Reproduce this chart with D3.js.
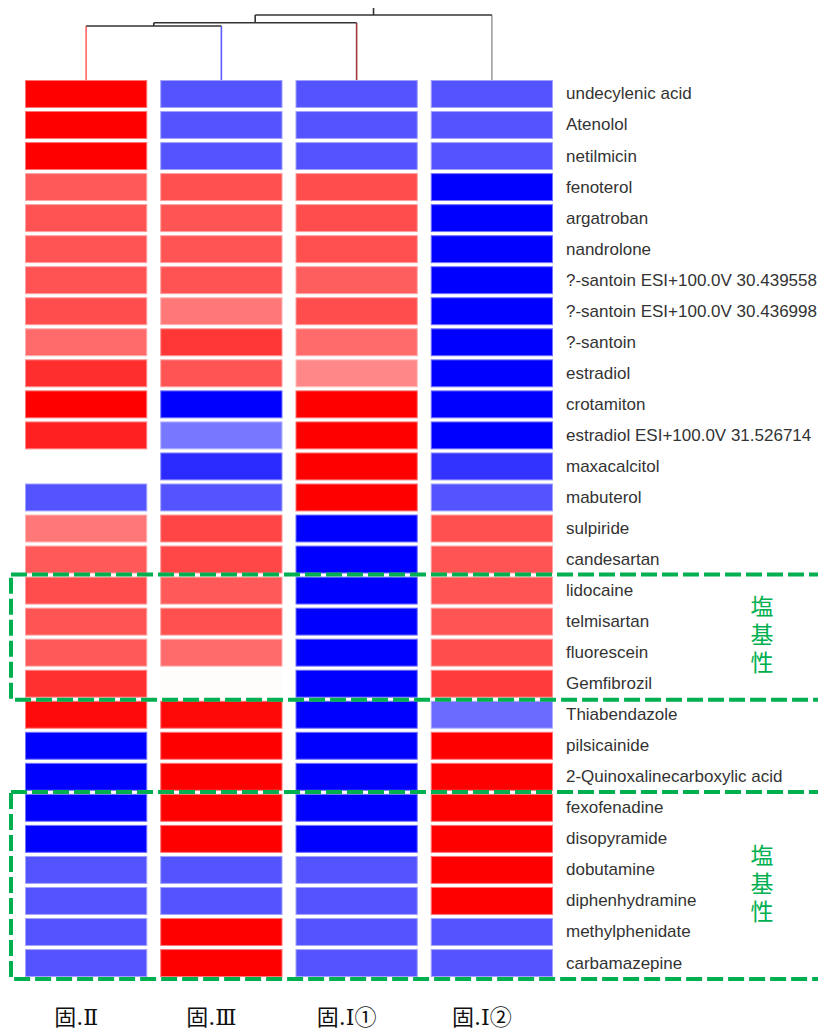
<!DOCTYPE html>
<html>
<head>
<meta charset="utf-8">
<script src="https://cdn.jsdelivr.net/npm/d3@7"></script>
<style>
  html, body { margin: 0; padding: 0; background: #fff; }
  svg { display: block; }
</style>
</head>
<body>
<svg id="chart" width="818" height="1030"></svg>
<script>
// Samples (columns) and compounds (rows)
const columns = ["固.Ⅱ", "固.Ⅲ", "固.Ⅰ①", "固.Ⅰ②"];
const compounds = [
  "undecylenic acid", "Atenolol", "netilmicin", "fenoterol", "argatroban",
  "nandrolone", "?-santoin ESI+100.0V 30.439558", "?-santoin ESI+100.0V 30.436998",
  "?-santoin", "estradiol", "crotamiton", "estradiol ESI+100.0V 31.526714",
  "maxacalcitol", "mabuterol", "sulpiride", "candesartan", "lidocaine",
  "telmisartan", "fluorescein", "Gemfibrozil", "Thiabendazole", "pilsicainide",
  "2-Quinoxalinecarboxylic acid", "fexofenadine", "disopyramide", "dobutamine",
  "diphenhydramine", "methylphenidate", "carbamazepine"
];

// Scaled intensity per sample, one array per column (null = no value)
const valuesII = [
  1.0, 1.0, 1.0, 0.65, 0.68, 0.67, 0.68, 0.70, 0.58, 0.82,
  1.0, 0.87, null, -0.67, 0.53, 0.65, 0.70, 0.67, 0.65, 0.81,
  0.96, -1.0, -1.0, -1.0, -1.0, -0.67, -0.67, -0.67, -0.67
];
const valuesIII = [
  -0.67, -0.67, -0.67, 0.69, 0.67, 0.67, 0.68, 0.53, 0.79, 0.67,
  -1.0, -0.53, -0.83, -0.67, 0.73, 0.72, 0.65, 0.69, 0.58, 0.01,
  0.97, 1.0, 1.0, 1.0, 1.0, -0.67, -0.67, 1.0, 1.0
];
const valuesI1 = [
  -0.67, -0.67, -0.67, 0.70, 0.70, 0.69, 0.63, 0.70, 0.58, 0.47,
  1.0, 1.0, 1.0, 1.0, -1.0, -1.0, -1.0, -1.0, -1.0, -1.0,
  -1.0, -1.0, -1.0, -1.0, -1.0, -0.67, -0.67, -0.67, -0.67
];
const valuesI2 = [
  -0.67, -0.67, -0.67, -1.0, -1.0, -1.0, -1.0, -1.0, -1.0, -1.0,
  -1.0, -1.0, -0.80, -0.67, 0.69, 0.67, 0.67, 0.67, 0.70, 0.77,
  -0.58, 1.0, 1.0, 1.0, 1.0, 1.0, 1.0, -0.67, -0.67
];
const seriesValues = [valuesII, valuesIII, valuesI1, valuesI2];

// Column clustering: merge heights (leaves sit at 0)
const dendroHeights = { pairIIandIII: 0.83, withI1: 0.88, root: 1.0 };
const leafBranchColors = ["#ff6666", "#5a5aff", "#a33a3a", "#a0a0a0"];

// Highlighted row groups
const groupLabel = "塩基性";
const groups = [
  { from: "lidocaine", to: "Gemfibrozil" },
  { from: "fexofenadine", to: "carbamazepine" }
];

const svg = d3.select("#chart");

const x = d3.scaleBand().domain(columns).range([25, 553]).paddingInner(0.096);
const y = d3.scaleBand().domain(compounds).range([80, 977]).paddingInner(0.1);

const color = v => v == null ? "#ffffff"
  : v >= 0 ? d3.interpolateRgb("#ffffff", "#ff0000")(v)
           : d3.interpolateRgb("#ffffff", "#0000ff")(-v);

// Heat map cells
const cells = [];
columns.forEach((c, ci) => compounds.forEach((r, ri) => {
  cells.push({ col: c, row: r, v: seriesValues[ci][ri] });
}));

svg.append("g").selectAll("rect")
  .data(cells.filter(d => d.v != null))
  .join("rect")
  .attr("x", d => x(d.col) + 0.5)
  .attr("y", d => y(d.row) + 0.5)
  .attr("width", x.bandwidth() - 1)
  .attr("height", y.bandwidth() - 1)
  .attr("fill", d => color(d.v))
  .attr("stroke", d => d3.interpolateRgb(color(d.v), "#ffffff")(0.45))
  .attr("stroke-width", 1);

// Row labels
svg.append("g").selectAll("text")
  .data(compounds)
  .join("text")
  .attr("x", 566)
  .attr("y", d => y(d) + y.bandwidth() / 2 + 1)
  .attr("dominant-baseline", "middle")
  .attr("font-family", "'Liberation Sans', Arial, sans-serif")
  .attr("font-size", 17)
  .attr("fill", "#333")
  .text(d => d);

// Column labels
svg.append("g").selectAll("text")
  .data(columns)
  .join("text")
  .attr("x", d => x(d) + x.bandwidth() / 2 - 10)
  .attr("y", 1025)
  .attr("text-anchor", "middle")
  .attr("font-family", "'DejaVu Serif', 'Liberation Serif', 'Noto Sans CJK JP', serif")
  .attr("font-size", 22)
  .attr("fill", "#111")
  .text(d => d);

// Dendrogram
const h = d3.scaleLinear().domain([0, 1]).range([80, 15]);
const cx = c => x(c) + x.bandwidth() / 2;
const xa = (cx(columns[0]) + cx(columns[1])) / 2;
const xb = (xa + cx(columns[2])) / 2;
const xr = (xb + cx(columns[3])) / 2;
const ya = h(dendroHeights.pairIIandIII), yb = h(dendroHeights.withI1), yr = h(dendroHeights.root);

const dg = svg.append("g").attr("fill", "none").attr("stroke-width", 1.6);
// leaf branches
[[cx(columns[0]), ya], [cx(columns[1]), ya], [cx(columns[2]), yb], [cx(columns[3]), yr]]
  .forEach(([lx, ly], i) => {
    dg.append("line").attr("x1", lx).attr("x2", lx).attr("y1", h(0)).attr("y2", ly)
      .attr("stroke", leafBranchColors[i]);
  });
const link = d3.line();
[
  [[cx(columns[0]), ya], [cx(columns[1]), ya]],
  [[xa, ya], [xa, yb]],
  [[xa, yb], [cx(columns[2]), yb]],
  [[xb, yb], [xb, yr]],
  [[xb, yr], [cx(columns[3]), yr]],
  [[xr, yr], [xr, yr - 7]]
].forEach(seg => dg.append("path").attr("stroke", "#333").attr("d", link(seg)));

// Dashed group boxes with vertical label
const gg = svg.append("g");
groups.forEach(g => {
  const top = y(g.from) - 2;
  const bottom = y(g.to) + y.bandwidth() + 2;
  gg.append("rect")
    .attr("x", 11).attr("y", top)
    .attr("width", 840).attr("height", bottom - top)
    .attr("fill", "none")
    .attr("stroke", "#00b050")
    .attr("stroke-width", 4)
    .attr("stroke-dasharray", "16 5");
  gg.append("text")
    .attr("x", 762)
    .attr("y", (top + bottom) / 2)
    .attr("text-anchor", "middle")
    .style("writing-mode", "vertical-rl")
    .style("letter-spacing", "5px")
    .attr("font-family", "'Noto Sans CJK JP', sans-serif")
    .attr("font-size", 23)
    .attr("fill", "#00b050")
    .text(groupLabel);
});
</script>
</body>
</html>
